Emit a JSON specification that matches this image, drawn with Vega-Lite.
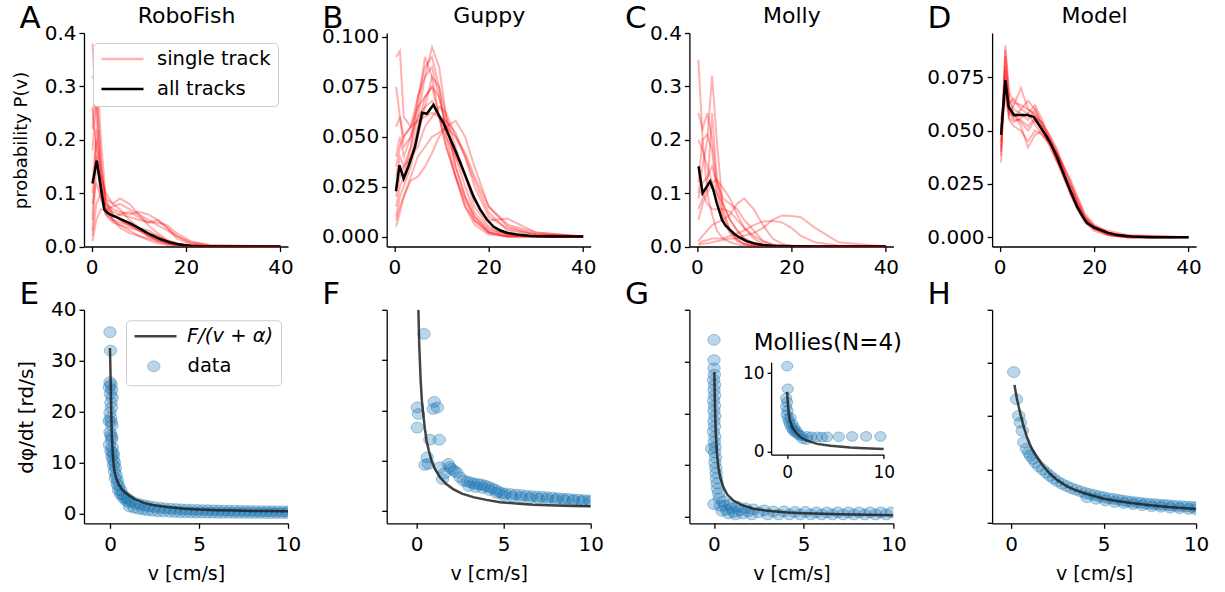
{
"$schema":"https://vega.github.io/schema/vega-lite/v6.json",
"autosize":{"type":"none"},
"padding":{"left":84,"top":33,"right":1141,"bottom":559},
"background":"white",
"bounds":"flush",
"columns":4,
"spacing":{"row":62.8,"column":98.7},
"resolve":{"scale":{"color":"independent","shape":"independent"},"legend":{"color":"independent","shape":"independent"}},
"datasets":{
"At":[
{"k":1,"x":0.2,"y":0.38},{"k":1,"x":1,"y":0.25},{"k":1,"x":2,"y":0.12},{"k":1,"x":3,"y":0.07},{"k":1,"x":4.5,"y":0.05},{"k":1,"x":6,"y":0.04},{"k":1,"x":8,"y":0.03},{"k":1,"x":10,"y":0.02},{"k":1,"x":12,"y":0.012},{"k":1,"x":14,"y":0.006},{"k":1,"x":16,"y":0.003},{"k":1,"x":18,"y":0.001},{"k":1,"x":21,"y":0},{"k":1,"x":40,"y":0},
{"k":2,"x":0.2,"y":0.32},{"k":2,"x":1,"y":0.3},{"k":2,"x":2,"y":0.15},{"k":2,"x":3,"y":0.08},{"k":2,"x":4.5,"y":0.06},{"k":2,"x":6,"y":0.05},{"k":2,"x":8,"y":0.04},{"k":2,"x":10,"y":0.03},{"k":2,"x":12,"y":0.02},{"k":2,"x":14,"y":0.012},{"k":2,"x":16,"y":0.006},{"k":2,"x":18,"y":0.003},{"k":2,"x":21,"y":0.001},{"k":2,"x":25,"y":0},{"k":2,"x":40,"y":0},
{"k":3,"x":0.2,"y":0.05},{"k":3,"x":1,"y":0.22},{"k":3,"x":2,"y":0.14},{"k":3,"x":3,"y":0.09},{"k":3,"x":4.5,"y":0.08},{"k":3,"x":6,"y":0.09},{"k":3,"x":8,"y":0.08},{"k":3,"x":10,"y":0.06},{"k":3,"x":12,"y":0.04},{"k":3,"x":14,"y":0.025},{"k":3,"x":16,"y":0.012},{"k":3,"x":18,"y":0.005},{"k":3,"x":21,"y":0.001},{"k":3,"x":25,"y":0},{"k":3,"x":40,"y":0},
{"k":4,"x":0.2,"y":0.02},{"k":4,"x":1,"y":0.08},{"k":4,"x":2,"y":0.1},{"k":4,"x":3,"y":0.08},{"k":4,"x":4.5,"y":0.07},{"k":4,"x":6,"y":0.065},{"k":4,"x":8,"y":0.06},{"k":4,"x":10,"y":0.065},{"k":4,"x":12,"y":0.06},{"k":4,"x":14,"y":0.05},{"k":4,"x":16,"y":0.035},{"k":4,"x":18,"y":0.02},{"k":4,"x":21,"y":0.006},{"k":4,"x":25,"y":0.001},{"k":4,"x":40,"y":0},
{"k":5,"x":0.2,"y":0.12},{"k":5,"x":1,"y":0.2},{"k":5,"x":2,"y":0.12},{"k":5,"x":3,"y":0.06},{"k":5,"x":4.5,"y":0.045},{"k":5,"x":6,"y":0.04},{"k":5,"x":8,"y":0.035},{"k":5,"x":10,"y":0.03},{"k":5,"x":12,"y":0.025},{"k":5,"x":14,"y":0.02},{"k":5,"x":16,"y":0.012},{"k":5,"x":18,"y":0.006},{"k":5,"x":21,"y":0.002},{"k":5,"x":25,"y":0},{"k":5,"x":40,"y":0},
{"k":6,"x":0.2,"y":0.26},{"k":6,"x":1,"y":0.18},{"k":6,"x":2,"y":0.09},{"k":6,"x":3,"y":0.06},{"k":6,"x":4.5,"y":0.05},{"k":6,"x":6,"y":0.045},{"k":6,"x":8,"y":0.04},{"k":6,"x":10,"y":0.035},{"k":6,"x":12,"y":0.03},{"k":6,"x":14,"y":0.02},{"k":6,"x":16,"y":0.01},{"k":6,"x":18,"y":0.004},{"k":6,"x":21,"y":0.001},{"k":6,"x":25,"y":0},{"k":6,"x":40,"y":0},
{"k":7,"x":0.2,"y":0.01},{"k":7,"x":1,"y":0.05},{"k":7,"x":2,"y":0.07},{"k":7,"x":3,"y":0.07},{"k":7,"x":4.5,"y":0.075},{"k":7,"x":6,"y":0.08},{"k":7,"x":8,"y":0.07},{"k":7,"x":10,"y":0.06},{"k":7,"x":12,"y":0.05},{"k":7,"x":14,"y":0.04},{"k":7,"x":16,"y":0.03},{"k":7,"x":18,"y":0.02},{"k":7,"x":21,"y":0.008},{"k":7,"x":25,"y":0.002},{"k":7,"x":40,"y":0},
{"k":8,"x":0.2,"y":0.18},{"k":8,"x":1,"y":0.28},{"k":8,"x":2,"y":0.16},{"k":8,"x":3,"y":0.08},{"k":8,"x":4.5,"y":0.05},{"k":8,"x":6,"y":0.035},{"k":8,"x":8,"y":0.025},{"k":8,"x":10,"y":0.02},{"k":8,"x":12,"y":0.015},{"k":8,"x":14,"y":0.01},{"k":8,"x":16,"y":0.006},{"k":8,"x":18,"y":0.003},{"k":8,"x":21,"y":0.001},{"k":8,"x":25,"y":0},{"k":8,"x":40,"y":0},
{"k":9,"x":0.2,"y":0.08},{"k":9,"x":1,"y":0.12},{"k":9,"x":2,"y":0.09},{"k":9,"x":3,"y":0.07},{"k":9,"x":4.5,"y":0.065},{"k":9,"x":6,"y":0.06},{"k":9,"x":8,"y":0.055},{"k":9,"x":10,"y":0.05},{"k":9,"x":12,"y":0.045},{"k":9,"x":14,"y":0.045},{"k":9,"x":16,"y":0.04},{"k":9,"x":18,"y":0.025},{"k":9,"x":21,"y":0.01},{"k":9,"x":25,"y":0.003},{"k":9,"x":40,"y":0},
{"k":10,"x":0.2,"y":0.03},{"k":10,"x":1,"y":0.15},{"k":10,"x":2,"y":0.13},{"k":10,"x":3,"y":0.1},{"k":10,"x":4.5,"y":0.08},{"k":10,"x":6,"y":0.07},{"k":10,"x":8,"y":0.05},{"k":10,"x":10,"y":0.035},{"k":10,"x":12,"y":0.02},{"k":10,"x":14,"y":0.01},{"k":10,"x":16,"y":0.005},{"k":10,"x":18,"y":0.002},{"k":10,"x":21,"y":0},{"k":10,"x":40,"y":0},
{"k":11,"x":0.2,"y":0.22},{"k":11,"x":1,"y":0.35},{"k":11,"x":2,"y":0.2},{"k":11,"x":3,"y":0.09},{"k":11,"x":4.5,"y":0.06},{"k":11,"x":6,"y":0.05},{"k":11,"x":8,"y":0.04},{"k":11,"x":10,"y":0.03},{"k":11,"x":12,"y":0.02},{"k":11,"x":14,"y":0.013},{"k":11,"x":16,"y":0.007},{"k":11,"x":18,"y":0.003},{"k":11,"x":21,"y":0.001},{"k":11,"x":25,"y":0},{"k":11,"x":40,"y":0},
{"k":12,"x":0.2,"y":0.1},{"k":12,"x":1,"y":0.17},{"k":12,"x":2,"y":0.1},{"k":12,"x":3,"y":0.065},{"k":12,"x":4.5,"y":0.055},{"k":12,"x":6,"y":0.06},{"k":12,"x":8,"y":0.065},{"k":12,"x":10,"y":0.055},{"k":12,"x":12,"y":0.045},{"k":12,"x":14,"y":0.05},{"k":12,"x":16,"y":0.035},{"k":12,"x":18,"y":0.015},{"k":12,"x":21,"y":0.004},{"k":12,"x":25,"y":0.001},{"k":12,"x":40,"y":0}
],
"Ab":[
{"x":0.2,"y":0.118},{"x":1.1,"y":0.161},{"x":2.7,"y":0.069},{"x":3.5,"y":0.062},{"x":4.5,"y":0.058},{"x":5.5,"y":0.054},{"x":6.5,"y":0.05},{"x":7.5,"y":0.046},{"x":8.5,"y":0.042},{"x":9.5,"y":0.037},{"x":10.5,"y":0.032},{"x":11.5,"y":0.027},{"x":12.5,"y":0.022},{"x":13.5,"y":0.018},{"x":14.5,"y":0.014},{"x":15.5,"y":0.011},{"x":16.5,"y":0.008},{"x":17.5,"y":0.006},{"x":18.5,"y":0.004},{"x":19.5,"y":0.003},{"x":21,"y":0.0015},{"x":23,"y":0.0007},{"x":26,"y":0.0002},{"x":30,"y":0},{"x":40,"y":0}
],
"Bt":[
{"k":1,"x":0.4,"y":0.09},{"k":1,"x":1.2,"y":0.093},{"k":1,"x":2,"y":0.06},{"k":1,"x":3.5,"y":0.055},{"k":1,"x":5,"y":0.07},{"k":1,"x":6.5,"y":0.08},{"k":1,"x":8,"y":0.085},{"k":1,"x":9.5,"y":0.07},{"k":1,"x":11,"y":0.055},{"k":1,"x":13,"y":0.035},{"k":1,"x":15,"y":0.02},{"k":1,"x":17,"y":0.01},{"k":1,"x":20,"y":0.003},{"k":1,"x":24,"y":0.001},{"k":1,"x":30,"y":0},{"k":1,"x":40,"y":0},
{"k":2,"x":0.4,"y":0.01},{"k":2,"x":1.2,"y":0.02},{"k":2,"x":2,"y":0.025},{"k":2,"x":3.5,"y":0.035},{"k":2,"x":5,"y":0.05},{"k":2,"x":6.5,"y":0.065},{"k":2,"x":8,"y":0.08},{"k":2,"x":9.5,"y":0.075},{"k":2,"x":11,"y":0.06},{"k":2,"x":13,"y":0.045},{"k":2,"x":15,"y":0.03},{"k":2,"x":17,"y":0.015},{"k":2,"x":20,"y":0.005},{"k":2,"x":24,"y":0.001},{"k":2,"x":30,"y":0},{"k":2,"x":40,"y":0},
{"k":3,"x":0.4,"y":0.03},{"k":3,"x":1.2,"y":0.04},{"k":3,"x":2,"y":0.035},{"k":3,"x":3.5,"y":0.045},{"k":3,"x":5,"y":0.06},{"k":3,"x":6.5,"y":0.08},{"k":3,"x":8,"y":0.095},{"k":3,"x":9.5,"y":0.085},{"k":3,"x":11,"y":0.06},{"k":3,"x":13,"y":0.035},{"k":3,"x":15,"y":0.02},{"k":3,"x":17,"y":0.01},{"k":3,"x":20,"y":0.002},{"k":3,"x":24,"y":0},{"k":3,"x":40,"y":0},
{"k":4,"x":0.4,"y":0.005},{"k":4,"x":1.2,"y":0.012},{"k":4,"x":2,"y":0.02},{"k":4,"x":3.5,"y":0.03},{"k":4,"x":5,"y":0.04},{"k":4,"x":6.5,"y":0.045},{"k":4,"x":8,"y":0.05},{"k":4,"x":9.5,"y":0.052},{"k":4,"x":11,"y":0.055},{"k":4,"x":13,"y":0.058},{"k":4,"x":15,"y":0.05},{"k":4,"x":17,"y":0.035},{"k":4,"x":20,"y":0.015},{"k":4,"x":24,"y":0.005},{"k":4,"x":30,"y":0.001},{"k":4,"x":40,"y":0},
{"k":5,"x":0.4,"y":0.075},{"k":5,"x":1.2,"y":0.06},{"k":5,"x":2,"y":0.05},{"k":5,"x":3.5,"y":0.055},{"k":5,"x":5,"y":0.065},{"k":5,"x":6.5,"y":0.07},{"k":5,"x":8,"y":0.075},{"k":5,"x":9.5,"y":0.06},{"k":5,"x":11,"y":0.045},{"k":5,"x":13,"y":0.03},{"k":5,"x":15,"y":0.015},{"k":5,"x":17,"y":0.008},{"k":5,"x":20,"y":0.002},{"k":5,"x":24,"y":0},{"k":5,"x":40,"y":0},
{"k":6,"x":0.4,"y":0.02},{"k":6,"x":1.2,"y":0.03},{"k":6,"x":2,"y":0.035},{"k":6,"x":3.5,"y":0.04},{"k":6,"x":5,"y":0.045},{"k":6,"x":6.5,"y":0.055},{"k":6,"x":8,"y":0.06},{"k":6,"x":9.5,"y":0.065},{"k":6,"x":11,"y":0.062},{"k":6,"x":13,"y":0.05},{"k":6,"x":15,"y":0.04},{"k":6,"x":17,"y":0.025},{"k":6,"x":20,"y":0.01},{"k":6,"x":24,"y":0.004},{"k":6,"x":30,"y":0.001},{"k":6,"x":40,"y":0},
{"k":7,"x":0.4,"y":0.04},{"k":7,"x":1.2,"y":0.05},{"k":7,"x":2,"y":0.04},{"k":7,"x":3.5,"y":0.05},{"k":7,"x":5,"y":0.065},{"k":7,"x":6.5,"y":0.09},{"k":7,"x":8,"y":0.08},{"k":7,"x":9.5,"y":0.06},{"k":7,"x":11,"y":0.045},{"k":7,"x":13,"y":0.03},{"k":7,"x":15,"y":0.018},{"k":7,"x":17,"y":0.008},{"k":7,"x":20,"y":0.002},{"k":7,"x":24,"y":0},{"k":7,"x":40,"y":0},
{"k":8,"x":0.4,"y":0.008},{"k":8,"x":1.2,"y":0.015},{"k":8,"x":2,"y":0.02},{"k":8,"x":3.5,"y":0.028},{"k":8,"x":5,"y":0.03},{"k":8,"x":6.5,"y":0.035},{"k":8,"x":8,"y":0.042},{"k":8,"x":9.5,"y":0.05},{"k":8,"x":11,"y":0.055},{"k":8,"x":13,"y":0.05},{"k":8,"x":15,"y":0.042},{"k":8,"x":17,"y":0.03},{"k":8,"x":20,"y":0.015},{"k":8,"x":24,"y":0.006},{"k":8,"x":30,"y":0.002},{"k":8,"x":40,"y":0},
{"k":9,"x":0.4,"y":0.025},{"k":9,"x":1.2,"y":0.035},{"k":9,"x":2,"y":0.03},{"k":9,"x":3.5,"y":0.04},{"k":9,"x":5,"y":0.055},{"k":9,"x":6.5,"y":0.07},{"k":9,"x":8,"y":0.075},{"k":9,"x":9.5,"y":0.07},{"k":9,"x":11,"y":0.055},{"k":9,"x":13,"y":0.04},{"k":9,"x":15,"y":0.025},{"k":9,"x":17,"y":0.012},{"k":9,"x":20,"y":0.004},{"k":9,"x":24,"y":0.001},{"k":9,"x":30,"y":0},{"k":9,"x":40,"y":0},
{"k":10,"x":0.4,"y":0.055},{"k":10,"x":1.2,"y":0.06},{"k":10,"x":2,"y":0.045},{"k":10,"x":3.5,"y":0.05},{"k":10,"x":5,"y":0.06},{"k":10,"x":6.5,"y":0.065},{"k":10,"x":8,"y":0.068},{"k":10,"x":9.5,"y":0.06},{"k":10,"x":11,"y":0.05},{"k":10,"x":13,"y":0.04},{"k":10,"x":15,"y":0.03},{"k":10,"x":17,"y":0.018},{"k":10,"x":20,"y":0.008},{"k":10,"x":24,"y":0.009},{"k":10,"x":30,"y":0.002},{"k":10,"x":40,"y":0},
{"k":11,"x":0.4,"y":0.015},{"k":11,"x":1.2,"y":0.025},{"k":11,"x":2,"y":0.03},{"k":11,"x":3.5,"y":0.045},{"k":11,"x":5,"y":0.07},{"k":11,"x":6.5,"y":0.085},{"k":11,"x":8,"y":0.09},{"k":11,"x":9.5,"y":0.075},{"k":11,"x":11,"y":0.05},{"k":11,"x":13,"y":0.03},{"k":11,"x":15,"y":0.015},{"k":11,"x":17,"y":0.006},{"k":11,"x":20,"y":0.001},{"k":11,"x":24,"y":0},{"k":11,"x":40,"y":0},
{"k":12,"x":0.4,"y":0.035},{"k":12,"x":1.2,"y":0.045},{"k":12,"x":2,"y":0.05},{"k":12,"x":3.5,"y":0.055},{"k":12,"x":5,"y":0.058},{"k":12,"x":6.5,"y":0.06},{"k":12,"x":8,"y":0.062},{"k":12,"x":9.5,"y":0.06},{"k":12,"x":11,"y":0.058},{"k":12,"x":13,"y":0.052},{"k":12,"x":15,"y":0.04},{"k":12,"x":17,"y":0.028},{"k":12,"x":20,"y":0.012},{"k":12,"x":24,"y":0.003},{"k":12,"x":30,"y":0.001},{"k":12,"x":40,"y":0}
],
"Bb":[
{"x":0.36,"y":0.0227},{"x":1.1,"y":0.0357},{"x":2,"y":0.029},{"x":3,"y":0.035},{"x":4.4,"y":0.045},{"x":5.9,"y":0.062},{"x":6.9,"y":0.0615},{"x":8.3,"y":0.066},{"x":9.4,"y":0.061},{"x":10.4,"y":0.057},{"x":11.5,"y":0.051},{"x":12.6,"y":0.045},{"x":14,"y":0.037},{"x":15.4,"y":0.0285},{"x":16.8,"y":0.02},{"x":18.2,"y":0.0135},{"x":19.6,"y":0.0085},{"x":21,"y":0.005},{"x":22.5,"y":0.003},{"x":24,"y":0.0018},{"x":26,"y":0.001},{"x":29,"y":0.0003},{"x":33,"y":0},{"x":40,"y":0}
],
"Ct":[
{"k":1,"x":0.3,"y":0.35},{"k":1,"x":1.2,"y":0.2},{"k":1,"x":2.2,"y":0.1},{"k":1,"x":3.2,"y":0.06},{"k":1,"x":4.2,"y":0.03},{"k":1,"x":5.5,"y":0.015},{"k":1,"x":7,"y":0.008},{"k":1,"x":8.5,"y":0.004},{"k":1,"x":10,"y":0.002},{"k":1,"x":12,"y":0.001},{"k":1,"x":14,"y":0},{"k":1,"x":40,"y":0},
{"k":2,"x":0.3,"y":0.1},{"k":2,"x":1.2,"y":0.15},{"k":2,"x":2.2,"y":0.2},{"k":2,"x":3.2,"y":0.32},{"k":2,"x":4.2,"y":0.2},{"k":2,"x":5.5,"y":0.07},{"k":2,"x":7,"y":0.03},{"k":2,"x":8.5,"y":0.015},{"k":2,"x":10,"y":0.006},{"k":2,"x":12,"y":0.002},{"k":2,"x":14,"y":0.001},{"k":2,"x":16,"y":0},{"k":2,"x":40,"y":0},
{"k":3,"x":0.3,"y":0.2},{"k":3,"x":1.2,"y":0.18},{"k":3,"x":2.2,"y":0.15},{"k":3,"x":3.2,"y":0.12},{"k":3,"x":4.2,"y":0.1},{"k":3,"x":5.5,"y":0.08},{"k":3,"x":7,"y":0.05},{"k":3,"x":8.5,"y":0.03},{"k":3,"x":10,"y":0.015},{"k":3,"x":12,"y":0.005},{"k":3,"x":14,"y":0.002},{"k":3,"x":16,"y":0.001},{"k":3,"x":18,"y":0},{"k":3,"x":40,"y":0},
{"k":4,"x":0.3,"y":0.05},{"k":4,"x":1.2,"y":0.08},{"k":4,"x":2.2,"y":0.1},{"k":4,"x":3.2,"y":0.12},{"k":4,"x":4.2,"y":0.125},{"k":4,"x":5.5,"y":0.11},{"k":4,"x":7,"y":0.09},{"k":4,"x":8.5,"y":0.06},{"k":4,"x":10,"y":0.035},{"k":4,"x":12,"y":0.015},{"k":4,"x":14,"y":0.005},{"k":4,"x":16,"y":0.002},{"k":4,"x":18,"y":0},{"k":4,"x":40,"y":0},
{"k":5,"x":0.3,"y":0.01},{"k":5,"x":1.2,"y":0.02},{"k":5,"x":2.2,"y":0.03},{"k":5,"x":3.2,"y":0.04},{"k":5,"x":4.2,"y":0.045},{"k":5,"x":5.5,"y":0.05},{"k":5,"x":7,"y":0.06},{"k":5,"x":8.5,"y":0.08},{"k":5,"x":10,"y":0.09},{"k":5,"x":12,"y":0.07},{"k":5,"x":14,"y":0.04},{"k":5,"x":16,"y":0.015},{"k":5,"x":18,"y":0.005},{"k":5,"x":20,"y":0.001},{"k":5,"x":22,"y":0},{"k":5,"x":40,"y":0},
{"k":6,"x":0.3,"y":0.005},{"k":6,"x":1.2,"y":0.01},{"k":6,"x":2.2,"y":0.012},{"k":6,"x":3.2,"y":0.015},{"k":6,"x":4.2,"y":0.015},{"k":6,"x":5.5,"y":0.015},{"k":6,"x":7,"y":0.02},{"k":6,"x":8.5,"y":0.025},{"k":6,"x":10,"y":0.03},{"k":6,"x":12,"y":0.04},{"k":6,"x":14,"y":0.047},{"k":6,"x":16,"y":0.048},{"k":6,"x":18,"y":0.045},{"k":6,"x":20,"y":0.035},{"k":6,"x":22,"y":0.02},{"k":6,"x":25,"y":0.008},{"k":6,"x":30,"y":0.002},{"k":6,"x":40,"y":0},
{"k":7,"x":0.3,"y":0.003},{"k":7,"x":1.2,"y":0.005},{"k":7,"x":2.2,"y":0.006},{"k":7,"x":3.2,"y":0.008},{"k":7,"x":4.2,"y":0.01},{"k":7,"x":5.5,"y":0.012},{"k":7,"x":7,"y":0.015},{"k":7,"x":8.5,"y":0.015},{"k":7,"x":10,"y":0.02},{"k":7,"x":12,"y":0.025},{"k":7,"x":14,"y":0.035},{"k":7,"x":16,"y":0.05},{"k":7,"x":18,"y":0.058},{"k":7,"x":20,"y":0.057},{"k":7,"x":22,"y":0.055},{"k":7,"x":25,"y":0.035},{"k":7,"x":30,"y":0.008},{"k":7,"x":40,"y":0},
{"k":8,"x":0.3,"y":0.25},{"k":8,"x":1.2,"y":0.22},{"k":8,"x":2.2,"y":0.25},{"k":8,"x":3.2,"y":0.2},{"k":8,"x":4.2,"y":0.12},{"k":8,"x":5.5,"y":0.06},{"k":8,"x":7,"y":0.03},{"k":8,"x":8.5,"y":0.012},{"k":8,"x":10,"y":0.005},{"k":8,"x":12,"y":0.002},{"k":8,"x":14,"y":0},{"k":8,"x":40,"y":0},
{"k":9,"x":0.3,"y":0.09},{"k":9,"x":1.2,"y":0.12},{"k":9,"x":2.2,"y":0.13},{"k":9,"x":3.2,"y":0.15},{"k":9,"x":4.2,"y":0.12},{"k":9,"x":5.5,"y":0.09},{"k":9,"x":7,"y":0.08},{"k":9,"x":8.5,"y":0.07},{"k":9,"x":10,"y":0.05},{"k":9,"x":12,"y":0.03},{"k":9,"x":14,"y":0.01},{"k":9,"x":16,"y":0.004},{"k":9,"x":18,"y":0.001},{"k":9,"x":20,"y":0},{"k":9,"x":40,"y":0},
{"k":10,"x":0.3,"y":0.15},{"k":10,"x":1.2,"y":0.1},{"k":10,"x":2.2,"y":0.08},{"k":10,"x":3.2,"y":0.07},{"k":10,"x":4.2,"y":0.07},{"k":10,"x":5.5,"y":0.07},{"k":10,"x":7,"y":0.065},{"k":10,"x":8.5,"y":0.05},{"k":10,"x":10,"y":0.035},{"k":10,"x":12,"y":0.02},{"k":10,"x":14,"y":0.01},{"k":10,"x":16,"y":0.004},{"k":10,"x":18,"y":0.001},{"k":10,"x":20,"y":0},{"k":10,"x":40,"y":0},
{"k":11,"x":0.3,"y":0.12},{"k":11,"x":1.2,"y":0.2},{"k":11,"x":2.2,"y":0.21},{"k":11,"x":3.2,"y":0.18},{"k":11,"x":4.2,"y":0.1},{"k":11,"x":5.5,"y":0.05},{"k":11,"x":7,"y":0.025},{"k":11,"x":8.5,"y":0.01},{"k":11,"x":10,"y":0.004},{"k":11,"x":12,"y":0.001},{"k":11,"x":14,"y":0},{"k":11,"x":40,"y":0},
{"k":12,"x":0.3,"y":0.07},{"k":12,"x":1.2,"y":0.09},{"k":12,"x":2.2,"y":0.11},{"k":12,"x":3.2,"y":0.25},{"k":12,"x":4.2,"y":0.13},{"k":12,"x":5.5,"y":0.08},{"k":12,"x":7,"y":0.05},{"k":12,"x":8.5,"y":0.03},{"k":12,"x":10,"y":0.015},{"k":12,"x":12,"y":0.006},{"k":12,"x":14,"y":0.002},{"k":12,"x":16,"y":0},{"k":12,"x":40,"y":0}
],
"Cb":[
{"x":0.35,"y":0.15},{"x":1.2,"y":0.1},{"x":2.8,"y":0.122},{"x":3.5,"y":0.105},{"x":4.2,"y":0.081},{"x":5.3,"y":0.05},{"x":6,"y":0.04},{"x":7,"y":0.031},{"x":8,"y":0.023},{"x":9.2,"y":0.016},{"x":10.5,"y":0.01},{"x":12,"y":0.006},{"x":14,"y":0.003},{"x":16,"y":0.0015},{"x":18,"y":0.0008},{"x":21,"y":0.0003},{"x":25,"y":0},{"x":40,"y":0}
],
"Dt":[
{"k":1,"x":0.3,"y":0.04},{"k":1,"x":1.2,"y":0.085},{"k":1,"x":2,"y":0.065},{"k":1,"x":3,"y":0.06},{"k":1,"x":4.5,"y":0.058},{"k":1,"x":6,"y":0.055},{"k":1,"x":7.5,"y":0.06},{"k":1,"x":9,"y":0.052},{"k":1,"x":10.5,"y":0.046},{"k":1,"x":12,"y":0.04},{"k":1,"x":13.5,"y":0.032},{"k":1,"x":15,"y":0.022},{"k":1,"x":16.5,"y":0.015},{"k":1,"x":18,"y":0.008},{"k":1,"x":20,"y":0.004},{"k":1,"x":23,"y":0.001},{"k":1,"x":27,"y":0},{"k":1,"x":40,"y":0},
{"k":2,"x":0.3,"y":0.055},{"k":2,"x":1.2,"y":0.07},{"k":2,"x":2,"y":0.055},{"k":2,"x":3,"y":0.052},{"k":2,"x":4.5,"y":0.05},{"k":2,"x":6,"y":0.045},{"k":2,"x":7.5,"y":0.05},{"k":2,"x":9,"y":0.048},{"k":2,"x":10.5,"y":0.044},{"k":2,"x":12,"y":0.036},{"k":2,"x":13.5,"y":0.03},{"k":2,"x":15,"y":0.024},{"k":2,"x":16.5,"y":0.017},{"k":2,"x":18,"y":0.01},{"k":2,"x":20,"y":0.005},{"k":2,"x":23,"y":0.002},{"k":2,"x":27,"y":0.0005},{"k":2,"x":40,"y":0},
{"k":3,"x":0.3,"y":0.035},{"k":3,"x":1.2,"y":0.09},{"k":3,"x":2,"y":0.068},{"k":3,"x":3,"y":0.063},{"k":3,"x":4.5,"y":0.062},{"k":3,"x":6,"y":0.06},{"k":3,"x":7.5,"y":0.058},{"k":3,"x":9,"y":0.05},{"k":3,"x":10.5,"y":0.043},{"k":3,"x":12,"y":0.036},{"k":3,"x":13.5,"y":0.028},{"k":3,"x":15,"y":0.02},{"k":3,"x":16.5,"y":0.013},{"k":3,"x":18,"y":0.007},{"k":3,"x":20,"y":0.003},{"k":3,"x":23,"y":0.001},{"k":3,"x":27,"y":0},{"k":3,"x":40,"y":0},
{"k":4,"x":0.3,"y":0.05},{"k":4,"x":1.2,"y":0.065},{"k":4,"x":2,"y":0.058},{"k":4,"x":3,"y":0.056},{"k":4,"x":4.5,"y":0.06},{"k":4,"x":6,"y":0.064},{"k":4,"x":7.5,"y":0.06},{"k":4,"x":9,"y":0.053},{"k":4,"x":10.5,"y":0.048},{"k":4,"x":12,"y":0.042},{"k":4,"x":13.5,"y":0.033},{"k":4,"x":15,"y":0.025},{"k":4,"x":16.5,"y":0.018},{"k":4,"x":18,"y":0.01},{"k":4,"x":20,"y":0.005},{"k":4,"x":23,"y":0.002},{"k":4,"x":27,"y":0.0005},{"k":4,"x":40,"y":0},
{"k":5,"x":0.3,"y":0.045},{"k":5,"x":1.2,"y":0.08},{"k":5,"x":2,"y":0.06},{"k":5,"x":3,"y":0.058},{"k":5,"x":4.5,"y":0.052},{"k":5,"x":6,"y":0.042},{"k":5,"x":7.5,"y":0.048},{"k":5,"x":9,"y":0.05},{"k":5,"x":10.5,"y":0.046},{"k":5,"x":12,"y":0.04},{"k":5,"x":13.5,"y":0.034},{"k":5,"x":15,"y":0.026},{"k":5,"x":16.5,"y":0.016},{"k":5,"x":18,"y":0.009},{"k":5,"x":20,"y":0.004},{"k":5,"x":23,"y":0.001},{"k":5,"x":27,"y":0},{"k":5,"x":40,"y":0},
{"k":6,"x":0.3,"y":0.042},{"k":6,"x":1.2,"y":0.075},{"k":6,"x":2,"y":0.063},{"k":6,"x":3,"y":0.065},{"k":6,"x":4.5,"y":0.06},{"k":6,"x":6,"y":0.058},{"k":6,"x":7.5,"y":0.062},{"k":6,"x":9,"y":0.055},{"k":6,"x":10.5,"y":0.046},{"k":6,"x":12,"y":0.037},{"k":6,"x":13.5,"y":0.029},{"k":6,"x":15,"y":0.021},{"k":6,"x":16.5,"y":0.014},{"k":6,"x":18,"y":0.008},{"k":6,"x":20,"y":0.004},{"k":6,"x":23,"y":0.0015},{"k":6,"x":27,"y":0},{"k":6,"x":40,"y":0},
{"k":7,"x":0.3,"y":0.052},{"k":7,"x":1.2,"y":0.072},{"k":7,"x":2,"y":0.056},{"k":7,"x":3,"y":0.054},{"k":7,"x":4.5,"y":0.056},{"k":7,"x":6,"y":0.058},{"k":7,"x":7.5,"y":0.053},{"k":7,"x":9,"y":0.048},{"k":7,"x":10.5,"y":0.044},{"k":7,"x":12,"y":0.04},{"k":7,"x":13.5,"y":0.033},{"k":7,"x":15,"y":0.027},{"k":7,"x":16.5,"y":0.019},{"k":7,"x":18,"y":0.011},{"k":7,"x":20,"y":0.006},{"k":7,"x":23,"y":0.002},{"k":7,"x":27,"y":0.0005},{"k":7,"x":40,"y":0},
{"k":8,"x":0.3,"y":0.038},{"k":8,"x":1.2,"y":0.088},{"k":8,"x":2,"y":0.064},{"k":8,"x":3,"y":0.058},{"k":8,"x":4.5,"y":0.054},{"k":8,"x":6,"y":0.05},{"k":8,"x":7.5,"y":0.055},{"k":8,"x":9,"y":0.05},{"k":8,"x":10.5,"y":0.047},{"k":8,"x":12,"y":0.039},{"k":8,"x":13.5,"y":0.03},{"k":8,"x":15,"y":0.022},{"k":8,"x":16.5,"y":0.015},{"k":8,"x":18,"y":0.009},{"k":8,"x":20,"y":0.005},{"k":8,"x":23,"y":0.001},{"k":8,"x":27,"y":0},{"k":8,"x":40,"y":0},
{"k":9,"x":0.3,"y":0.048},{"k":9,"x":1.2,"y":0.078},{"k":9,"x":2,"y":0.058},{"k":9,"x":3,"y":0.062},{"k":9,"x":4.5,"y":0.07},{"k":9,"x":6,"y":0.06},{"k":9,"x":7.5,"y":0.057},{"k":9,"x":9,"y":0.053},{"k":9,"x":10.5,"y":0.045},{"k":9,"x":12,"y":0.037},{"k":9,"x":13.5,"y":0.031},{"k":9,"x":15,"y":0.024},{"k":9,"x":16.5,"y":0.016},{"k":9,"x":18,"y":0.009},{"k":9,"x":20,"y":0.004},{"k":9,"x":23,"y":0.002},{"k":9,"x":27,"y":0},{"k":9,"x":40,"y":0},
{"k":10,"x":0.3,"y":0.05},{"k":10,"x":1.2,"y":0.068},{"k":10,"x":2,"y":0.06},{"k":10,"x":3,"y":0.055},{"k":10,"x":4.5,"y":0.055},{"k":10,"x":6,"y":0.052},{"k":10,"x":7.5,"y":0.056},{"k":10,"x":9,"y":0.054},{"k":10,"x":10.5,"y":0.048},{"k":10,"x":12,"y":0.041},{"k":10,"x":13.5,"y":0.032},{"k":10,"x":15,"y":0.02},{"k":10,"x":16.5,"y":0.013},{"k":10,"x":18,"y":0.008},{"k":10,"x":20,"y":0.005},{"k":10,"x":23,"y":0.003},{"k":10,"x":27,"y":0.001},{"k":10,"x":40,"y":0}
],
"Db":[
{"x":0.3,"y":0.048},{"x":1.2,"y":0.0737},{"x":1.9,"y":0.0612},{"x":3,"y":0.0573},{"x":4.5,"y":0.0573},{"x":5.8,"y":0.0573},{"x":7.2,"y":0.0565},{"x":8.6,"y":0.0518},{"x":10,"y":0.047},{"x":11,"y":0.043},{"x":12.1,"y":0.0378},{"x":13.2,"y":0.0315},{"x":14.3,"y":0.0253},{"x":15.4,"y":0.0195},{"x":16.4,"y":0.0143},{"x":17.5,"y":0.01},{"x":18.5,"y":0.0066},{"x":20,"y":0.0045},{"x":21.3,"y":0.0034},{"x":23,"y":0.002},{"x":24.8,"y":0.001},{"x":28,"y":0.0003},{"x":32,"y":0},{"x":40,"y":0}
],
"Ep":[
{"x":0,"y":35.6},{"x":0.03,"y":32},{"x":0,"y":25.8},{"x":0.06,"y":25.3},{"x":-0.04,"y":24.8},{"x":0.1,"y":24.3},{"x":0.02,"y":23.5},{"x":0.12,"y":22.8},{"x":0.05,"y":21.8},{"x":0.08,"y":20.8},{"x":0,"y":19.8},{"x":0.04,"y":18.8},{"x":-0.05,"y":18.2},{"x":0.07,"y":18},{"x":0.1,"y":17.3},{"x":0,"y":16},{"x":0.05,"y":15.4},{"x":0.1,"y":15},{"x":0.08,"y":14.5},{"x":-0.03,"y":13.5},{"x":0.12,"y":13},{"x":0.05,"y":12.3},{"x":0.15,"y":12},{"x":0.1,"y":11.2},{"x":0.2,"y":11.5},{"x":0.18,"y":10.5},{"x":0.25,"y":10},{"x":0.2,"y":9.5},{"x":0.3,"y":9},{"x":0.25,"y":8.3},{"x":0.35,"y":7.6},{"x":0.3,"y":7},{"x":0.42,"y":6.5},{"x":0.4,"y":5.8},{"x":0.5,"y":5.4},{"x":0.48,"y":4.6},{"x":0.6,"y":4.6},{"x":0.6,"y":3.8},{"x":0.7,"y":3.8},{"x":0.75,"y":3.1},{"x":0.85,"y":3.2},{"x":0.9,"y":2.6},{"x":1,"y":2.9},{"x":1.05,"y":2.2},
{"x":1.2,"y":2.4},{"x":1.45,"y":2.05},{"x":1.7,"y":1.8},{"x":1.95,"y":1.6},{"x":2.2,"y":1.45},{"x":2.5,"y":1.3},{"x":2.8,"y":1.15},{"x":3.1,"y":1.05},{"x":3.4,"y":0.95},{"x":3.7,"y":0.9},{"x":4,"y":0.85},{"x":4.3,"y":0.8},{"x":4.6,"y":0.75},{"x":4.9,"y":0.72},{"x":5.2,"y":0.7},{"x":5.5,"y":0.68},{"x":5.8,"y":0.65},{"x":6.1,"y":0.63},{"x":6.4,"y":0.6},{"x":6.7,"y":0.58},{"x":7,"y":0.56},{"x":7.3,"y":0.55},{"x":7.6,"y":0.53},{"x":7.9,"y":0.52},{"x":8.2,"y":0.5},{"x":8.5,"y":0.5},{"x":8.8,"y":0.48},{"x":9.1,"y":0.47},{"x":9.4,"y":0.46},{"x":9.7,"y":0.45},{"x":10,"y":0.45},
{"x":1.1,"y":1.4},{"x":1.35,"y":1.15},{"x":1.6,"y":0.95},{"x":1.85,"y":0.8},{"x":2.1,"y":0.65},{"x":2.4,"y":0.55},{"x":2.7,"y":0.45},{"x":3,"y":0.4},{"x":3.35,"y":0.35},{"x":3.65,"y":0.3},{"x":3.95,"y":0.28},{"x":4.25,"y":0.25},{"x":4.55,"y":0.22},{"x":4.85,"y":0.2},{"x":5.15,"y":0.2},{"x":5.45,"y":0.18},{"x":5.75,"y":0.17},{"x":6.05,"y":0.16},{"x":6.35,"y":0.15},{"x":6.65,"y":0.15},{"x":6.95,"y":0.14},{"x":7.25,"y":0.13},{"x":7.55,"y":0.13},{"x":7.85,"y":0.12},{"x":8.15,"y":0.12},{"x":8.45,"y":0.11},{"x":8.75,"y":0.11},{"x":9.05,"y":0.1},{"x":9.35,"y":0.1},{"x":9.65,"y":0.1},{"x":9.95,"y":0.1}
],
"Ec":[
{"x":0,"y":32.5},{"x":0.02,"y":29},{"x":0.04,"y":25.5},{"x":0.07,"y":20},{"x":0.1,"y":15.6},{"x":0.15,"y":12},{"x":0.22,"y":9},{"x":0.3,"y":7.5},{"x":0.4,"y":6.5},{"x":0.5,"y":5.7},{"x":0.7,"y":4.6},{"x":1,"y":3.75},{"x":1.4,"y":2.8},{"x":1.9,"y":2.1},{"x":2.4,"y":1.7},{"x":2.9,"y":1.44},{"x":3.5,"y":1.2},{"x":4.2,"y":0.95},{"x":5,"y":0.8},{"x":6,"y":0.68},{"x":7,"y":0.6},{"x":8,"y":0.53},{"x":9,"y":0.49},{"x":10,"y":0.45}
],
"Fp":[
{"x":0.42,"y":35.2},{"x":0.04,"y":20.6},{"x":0.1,"y":19.3},{"x":0.04,"y":16.6},{"x":1.01,"y":21.7},{"x":1.19,"y":20.6},{"x":0.95,"y":20.3},{"x":0.76,"y":14.2},{"x":1.3,"y":14.2},{"x":0.61,"y":10.7},{"x":0.48,"y":9.2},{"x":0.67,"y":9.4},{"x":1.34,"y":8.7},{"x":1.82,"y":9.4},{"x":1.49,"y":6.4},{"x":2,"y":8.4},{"x":2.3,"y":7.7},{"x":2.49,"y":6.75},{"x":2.68,"y":6.1},{"x":1.6,"y":7.5},{"x":1.9,"y":8.8},{"x":2.15,"y":8},
{"x":2.9,"y":5.9},{"x":3.1,"y":5.7},{"x":3.3,"y":5.5},{"x":3.5,"y":5.4},{"x":3.7,"y":5.3},{"x":3.9,"y":5.1},{"x":4.1,"y":4.9},{"x":4.3,"y":4.6},{"x":4.5,"y":4.3},{"x":4.7,"y":3.9},{"x":4.9,"y":3.6},{"x":5.1,"y":3.5},{"x":5.4,"y":3.4},{"x":5.7,"y":3.3},{"x":6,"y":3.2},{"x":6.3,"y":3.1},{"x":6.6,"y":3},{"x":6.9,"y":2.9},{"x":7.2,"y":2.85},{"x":7.5,"y":2.8},{"x":7.8,"y":2.7},{"x":8.1,"y":2.6},{"x":8.4,"y":2.5},{"x":8.7,"y":2.45},{"x":9,"y":2.35},{"x":9.3,"y":2.3},{"x":9.6,"y":2.2},{"x":9.9,"y":2.15},
{"x":3,"y":5},{"x":3.4,"y":4.8},{"x":3.8,"y":4.6},{"x":4.2,"y":4.2},{"x":4.6,"y":3.6},{"x":5,"y":3.1},{"x":5.5,"y":2.9},{"x":6,"y":2.7},{"x":6.5,"y":2.6},{"x":7,"y":2.5},{"x":7.5,"y":2.4},{"x":8,"y":2.3},{"x":8.5,"y":2.2},{"x":9,"y":2.1},{"x":9.5,"y":2},{"x":10,"y":1.9}
],
"Fc":[
{"x":0.1,"y":40},{"x":0.15,"y":33},{"x":0.23,"y":26},{"x":0.3,"y":22},{"x":0.38,"y":19.3},{"x":0.47,"y":16.5},{"x":0.57,"y":14},{"x":0.7,"y":12},{"x":0.86,"y":10},{"x":1.05,"y":8.4},{"x":1.34,"y":6.75},{"x":1.7,"y":5.4},{"x":2.1,"y":4.4},{"x":2.6,"y":3.5},{"x":3.25,"y":2.8},{"x":4,"y":2.25},{"x":4.8,"y":1.8},{"x":5.7,"y":1.55},{"x":6.7,"y":1.3},{"x":8,"y":1.15},{"x":9,"y":1.05},{"x":10,"y":1}
],
"Gp":[
{"x":0,"y":34.2},{"x":0,"y":30.3},{"x":0,"y":28.7},{"x":0.02,"y":27.5},{"x":-0.02,"y":26.5},{"x":0.03,"y":25.5},{"x":0,"y":24.5},{"x":0.04,"y":23.5},{"x":-0.02,"y":22.5},{"x":0.03,"y":21.5},{"x":0,"y":20.5},{"x":0.05,"y":19.5},{"x":0,"y":18.5},{"x":0.03,"y":17.5},{"x":-0.03,"y":16.5},{"x":0.05,"y":15.5},{"x":0.02,"y":14.5},{"x":-0.13,"y":13.2},{"x":0.06,"y":13.5},{"x":0.03,"y":12.5},{"x":0.08,"y":11.5},{"x":0.05,"y":10.5},{"x":0.1,"y":9.5},{"x":0.12,"y":8.5},{"x":0.14,"y":7.5},{"x":0.17,"y":6.5},{"x":0.2,"y":5.5},{"x":0.25,"y":4.6},{"x":0,"y":2.5},
{"x":0.3,"y":3.6},{"x":0.35,"y":2.2},{"x":0.45,"y":1.2},{"x":0.5,"y":3},{"x":0.6,"y":2.2},{"x":0.7,"y":1.4},{"x":0.8,"y":0.7},{"x":0.9,"y":2.4},{"x":1,"y":1.7},{"x":1.1,"y":1},{"x":1.2,"y":0.5},{"x":1.3,"y":2},{"x":1.45,"y":1.3},{"x":1.6,"y":0.7},{"x":1.75,"y":1.7},{"x":1.9,"y":1.1},{"x":2.1,"y":0.5},{"x":2.2,"y":1.5},{"x":2.5,"y":0.9},{"x":2.8,"y":1.3},{"x":3,"y":0.5},{"x":3.3,"y":1.1},{"x":3.6,"y":0.5},{"x":3.9,"y":1.1},{"x":4.2,"y":0.5},{"x":4.5,"y":1},{"x":4.8,"y":0.5},{"x":5.1,"y":1},{"x":5.4,"y":0.5},{"x":5.7,"y":0.9},{"x":6,"y":0.5},{"x":6.3,"y":0.9},{"x":6.6,"y":0.5},{"x":6.9,"y":0.9},{"x":7.2,"y":0.5},{"x":7.5,"y":0.9},{"x":7.8,"y":0.5},{"x":8.1,"y":0.9},{"x":8.4,"y":0.5},{"x":8.7,"y":0.9},{"x":9,"y":0.5},{"x":9.3,"y":0.9},{"x":9.6,"y":0.5},{"x":9.9,"y":0.9}
],
"Gc":[
{"x":0.02,"y":28},{"x":0.05,"y":22},{"x":0.1,"y":16.1},{"x":0.16,"y":12.5},{"x":0.24,"y":9.7},{"x":0.35,"y":7.6},{"x":0.52,"y":5.8},{"x":0.75,"y":4.3},{"x":1.08,"y":3.2},{"x":1.5,"y":2.4},{"x":2.2,"y":1.6},{"x":3,"y":1.2},{"x":4.1,"y":0.9},{"x":5,"y":0.75},{"x":6,"y":0.62},{"x":7,"y":0.55},{"x":8.5,"y":0.45},{"x":10,"y":0.35}
],
"Gi":[
{"x":0,"y":10.9},{"x":0.07,"y":8},{"x":-0.1,"y":6.8},{"x":0,"y":6.3},{"x":-0.1,"y":5.7},{"x":0.05,"y":5.2},{"x":-0.05,"y":4.7},{"x":0.1,"y":4.2},{"x":0.2,"y":3.8},{"x":0.3,"y":3.4},{"x":0.45,"y":3},{"x":0.6,"y":2.7},{"x":0.8,"y":2.5},{"x":1,"y":2.3},{"x":1.2,"y":2.1},{"x":1.45,"y":2},{"x":0.35,"y":4.3},{"x":0.55,"y":3.5},{"x":0.75,"y":3},{"x":1,"y":2.6},{"x":1.6,"y":1.6},{"x":2,"y":1.5},{"x":2.07,"y":1.9},{"x":2.5,"y":1.85},{"x":3.1,"y":1.85},{"x":3.6,"y":1.8},{"x":4.14,"y":1.85},{"x":5.35,"y":1.85},{"x":6.73,"y":1.9},{"x":8.18,"y":1.9},{"x":9.66,"y":1.9}
],
"Gj":[
{"x":0,"y":7.6},{"x":0.08,"y":6},{"x":0.17,"y":4.8},{"x":0.3,"y":3.9},{"x":0.52,"y":3.1},{"x":0.9,"y":2.4},{"x":1.38,"y":1.8},{"x":2,"y":1.4},{"x":3.1,"y":0.95},{"x":4.5,"y":0.7},{"x":6.55,"y":0.5},{"x":8,"y":0.4},{"x":10,"y":0.3}
],
"Hp":[
{"x":0.14,"y":28.3},{"x":0.29,"y":23.2},{"x":0.41,"y":20.1},{"x":0.5,"y":18.8},{"x":0.6,"y":17.3},{"x":0.68,"y":15.1},{"x":0.82,"y":13.9},{"x":0.95,"y":13.2},{"x":1.04,"y":12.6},{"x":1.18,"y":12},{"x":1.31,"y":11.3},{"x":1.5,"y":10.6},{"x":1.7,"y":10},{"x":1.9,"y":9.4},{"x":2.1,"y":8.8},{"x":2.3,"y":8.3},{"x":2.5,"y":7.8},{"x":2.75,"y":7.3},{"x":3,"y":6.9},{"x":3.25,"y":6.5},{"x":3.5,"y":6.2},{"x":3.75,"y":5.9},{"x":4,"y":5.6},{"x":4.25,"y":5.4},{"x":4.5,"y":5.2},{"x":4.75,"y":5},{"x":5,"y":4.8},{"x":5.25,"y":4.6},{"x":5.5,"y":4.5},{"x":5.75,"y":4.35},{"x":6,"y":4.2},{"x":6.25,"y":4.05},{"x":6.5,"y":3.95},{"x":6.75,"y":3.85},{"x":7,"y":3.75},{"x":7.25,"y":3.65},{"x":7.5,"y":3.55},{"x":7.75,"y":3.5},{"x":8,"y":3.4},{"x":8.25,"y":3.35},{"x":8.5,"y":3.3},{"x":8.75,"y":3.2},{"x":9,"y":3.15},{"x":9.25,"y":3.1},{"x":9.5,"y":3.05},{"x":9.75,"y":3},{"x":10,"y":2.95},
{"x":4.1,"y":4.8},{"x":4.6,"y":4.5},{"x":5.1,"y":4.2},{"x":5.6,"y":3.9},{"x":6.1,"y":3.7},{"x":6.6,"y":3.5},{"x":7.1,"y":3.3},{"x":7.6,"y":3.1},{"x":8.1,"y":3},{"x":8.6,"y":2.85},{"x":9.1,"y":2.75},{"x":9.6,"y":2.6},{"x":10,"y":2.5}
],
"Hc":[
{"x":0.18,"y":25.9},{"x":0.3,"y":23.5},{"x":0.5,"y":20.4},{"x":0.7,"y":17.8},{"x":0.86,"y":16},{"x":1.1,"y":14},{"x":1.4,"y":12.3},{"x":1.7,"y":10.8},{"x":2.1,"y":9.2},{"x":2.5,"y":8},{"x":3,"y":6.9},{"x":3.5,"y":6.1},{"x":4.1,"y":5.4},{"x":5,"y":4.5},{"x":5.7,"y":4.1},{"x":6.5,"y":3.7},{"x":7.5,"y":3.3},{"x":8.5,"y":2.95},{"x":10,"y":2.57}
]
},
"concat":[
{"width":204,"height":213.5,
 "layer":[
  {"data":{"name":"At"},"mark":{"type":"line","strokeWidth":2,"opacity":0.3,"color":"#ff0000","clip":true},
   "encoding":{
    "x":{"field":"x","type":"quantitative","scale":{"domain":[-1.6,41.6],"nice":false,"zero":false},"axis":{"values":[0,20,40],"title":null}},
    "y":{"field":"y","type":"quantitative","scale":{"domain":[0,0.4],"nice":false,"zero":false},"axis":{"values":[0,0.1,0.2,0.3,0.4],"format":".1f","title":"probability P(v)","titleFontSize":18,"titleX":-63,"titleY":107,"titleAngle":-90,"titleBaseline":"middle","titleAlign":"center"}},
    "detail":{"field":"k","type":"nominal"}
   }},
  {"data":{"name":"Ab"},"mark":{"type":"line","strokeWidth":2.5,"clip":true},
   "encoding":{
    "x":{"field":"x","type":"quantitative","axis":{"orient":"top","title":"RoboFish","labels":false,"ticks":false,"domain":false,"titleFontSize":22,"titleX":102,"titleY":-11,"titleBaseline":"alphabetic","titleAlign":"center"}},
    "y":{"field":"y","type":"quantitative","axis":{"orient":"right","title":"A","labels":false,"ticks":false,"domain":false,"titleFontSize":31,"titleAngle":0,"titleX":-269,"titleY":-6,"titleBaseline":"alphabetic","titleAlign":"left"}},
    "color":{"datum":"all tracks","type":"nominal","scale":{"domain":["single track","all tracks"],"range":["#ffb3b3","#000000"]},
     "legend":{"orient":"none","legendX":9,"legendY":10,"title":null,"symbolType":"stroke","symbolSize":1764,"symbolStrokeWidth":2.5,"clipHeight":18,"rowPadding":10,"labelFontSize":19.5,"labelOffset":12,"padding":7,"strokeColor":"#cccccc","fillColor":"white","cornerRadius":4}}
   }}
 ],
 "resolve":{"axis":{"x":"independent","y":"independent"}}
},
{"width":204,"height":213.5,
 "layer":[
  {"data":{"name":"Bt"},"mark":{"type":"line","strokeWidth":2,"opacity":0.3,"color":"#ff0000","clip":true},
   "encoding":{
    "x":{"field":"x","type":"quantitative","scale":{"domain":[-1.6,41.6],"nice":false,"zero":false},"axis":{"values":[0,20,40],"title":null}},
    "y":{"field":"y","type":"quantitative","scale":{"domain":[-0.005,0.102],"nice":false,"zero":false},"axis":{"values":[0,0.025,0.05,0.075,0.1],"format":".3f","title":null}},
    "detail":{"field":"k","type":"nominal"}
   }},
  {"data":{"name":"Bb"},"mark":{"type":"line","strokeWidth":2.5,"color":"#000000","clip":true},
   "encoding":{
    "x":{"field":"x","type":"quantitative","axis":{"orient":"top","title":"Guppy","labels":false,"ticks":false,"domain":false,"titleFontSize":22,"titleX":102,"titleY":-11,"titleBaseline":"alphabetic","titleAlign":"center"}},
    "y":{"field":"y","type":"quantitative","axis":{"orient":"right","title":"B","labels":false,"ticks":false,"domain":false,"titleFontSize":31,"titleAngle":0,"titleX":-269,"titleY":-6,"titleBaseline":"alphabetic","titleAlign":"left"}}
   }}
 ],
 "resolve":{"axis":{"x":"independent","y":"independent"}}
},
{"width":204,"height":213.5,
 "layer":[
  {"data":{"name":"Ct"},"mark":{"type":"line","strokeWidth":2,"opacity":0.3,"color":"#ff0000","clip":true},
   "encoding":{
    "x":{"field":"x","type":"quantitative","scale":{"domain":[-1.6,41.6],"nice":false,"zero":false},"axis":{"values":[0,20,40],"title":null}},
    "y":{"field":"y","type":"quantitative","scale":{"domain":[0,0.4],"nice":false,"zero":false},"axis":{"values":[0,0.1,0.2,0.3,0.4],"format":".1f","title":null}},
    "detail":{"field":"k","type":"nominal"}
   }},
  {"data":{"name":"Cb"},"mark":{"type":"line","strokeWidth":2.5,"color":"#000000","clip":true},
   "encoding":{
    "x":{"field":"x","type":"quantitative","axis":{"orient":"top","title":"Molly","labels":false,"ticks":false,"domain":false,"titleFontSize":22,"titleX":102,"titleY":-11,"titleBaseline":"alphabetic","titleAlign":"center"}},
    "y":{"field":"y","type":"quantitative","axis":{"orient":"right","title":"C","labels":false,"ticks":false,"domain":false,"titleFontSize":31,"titleAngle":0,"titleX":-269,"titleY":-6,"titleBaseline":"alphabetic","titleAlign":"left"}}
   }}
 ],
 "resolve":{"axis":{"x":"independent","y":"independent"}}
},
{"width":204,"height":213.5,
 "layer":[
  {"data":{"name":"Dt"},"mark":{"type":"line","strokeWidth":2,"opacity":0.3,"color":"#ff0000","clip":true},
   "encoding":{
    "x":{"field":"x","type":"quantitative","scale":{"domain":[-1.6,41.6],"nice":false,"zero":false},"axis":{"values":[0,20,40],"title":null}},
    "y":{"field":"y","type":"quantitative","scale":{"domain":[-0.0044,0.0958],"nice":false,"zero":false},"axis":{"values":[0,0.025,0.05,0.075],"format":".3f","title":null}},
    "detail":{"field":"k","type":"nominal"}
   }},
  {"data":{"name":"Db"},"mark":{"type":"line","strokeWidth":2.5,"color":"#000000","clip":true},
   "encoding":{
    "x":{"field":"x","type":"quantitative","axis":{"orient":"top","title":"Model","labels":false,"ticks":false,"domain":false,"titleFontSize":22,"titleX":102,"titleY":-11,"titleBaseline":"alphabetic","titleAlign":"center"}},
    "y":{"field":"y","type":"quantitative","axis":{"orient":"right","title":"D","labels":false,"ticks":false,"domain":false,"titleFontSize":31,"titleAngle":0,"titleX":-269,"titleY":-6,"titleBaseline":"alphabetic","titleAlign":"left"}}
   }}
 ],
 "resolve":{"axis":{"x":"independent","y":"independent"}}
},
{"width":204,"height":213.5,
 "layer":[
  {"data":{"name":"Ep"},"mark":{"type":"point","filled":true,"size":115,"opacity":1,"fill":"rgba(31,119,180,0.3)","stroke":"rgba(31,119,180,0.4)","strokeWidth":1,"clip":true},
   "encoding":{
    "x":{"field":"x","type":"quantitative","scale":{"domain":[-1.46,10],"nice":false,"zero":false},"axis":{"values":[0,5,10],"title":"v [cm/s]","titleFontSize":19,"titleY":50,"titleBaseline":"middle"}},
    "y":{"field":"y","type":"quantitative","scale":{"domain":[-1.9,40],"nice":false,"zero":false},"axis":{"values":[0,10,20,30,40],"title":"dφ/dt [rd/s]","titleFontSize":20,"titleX":-58,"titleY":107,"titleAngle":-90,"titleBaseline":"middle","titleAlign":"center"}},
    "shape":{"datum":"data","type":"nominal","scale":{"domain":["data"],"range":["M-1.15,0A1.15,1,0,1,0,1.15,0A1.15,1,0,1,0,-1.15,0Z"]},
     "legend":{"orient":"none","legendX":60,"legendY":47,"title":null,"symbolSize":115,"symbolStrokeWidth":1,"clipHeight":19,"labelFontSize":19.5,"labelOffset":24,"padding":0}}
   }},
  {"data":{"name":"Ec"},"mark":{"type":"line","strokeWidth":2.5,"opacity":0.85,"clip":true},
   "encoding":{
    "x":{"field":"x","type":"quantitative","axis":null},
    "y":{"field":"y","type":"quantitative","axis":{"orient":"right","title":"E","labels":false,"ticks":false,"domain":false,"titleFontSize":31,"titleAngle":0,"titleX":-269,"titleY":-6,"titleBaseline":"alphabetic","titleAlign":"left"}},
    "color":{"datum":"F/(v + α)","type":"nominal","scale":{"domain":["F/(v + α)"],"range":["#222222"]},
     "legend":{"orient":"none","legendX":42,"legendY":10.5,"title":"\u00a0","titleOrient":"bottom","titleFontSize":19,"titlePadding":13,"symbolType":"stroke","symbolSize":1764,"symbolStrokeWidth":2.5,"clipHeight":18,"labelFontSize":19.5,"labelFontStyle":"italic","labelOffset":9,"padding":7,"strokeColor":"#cccccc","cornerRadius":4}}
   }}
 ],
 "resolve":{"axis":{"x":"independent","y":"independent"}}
},
{"width":204,"height":213.5,
 "layer":[
  {"data":{"name":"Fp"},"mark":{"type":"point","filled":true,"shape":"M-1.15,0A1.15,1,0,1,0,1.15,0A1.15,1,0,1,0,-1.15,0Z","size":115,"opacity":1,"fill":"rgba(31,119,180,0.3)","stroke":"rgba(31,119,180,0.4)","strokeWidth":1,"clip":true},
   "encoding":{
    "x":{"field":"x","type":"quantitative","scale":{"domain":[-1.72,10],"nice":false,"zero":false},"axis":{"values":[0,5,10],"title":"v [cm/s]","titleFontSize":19,"titleY":50,"titleBaseline":"middle"}},
    "y":{"field":"y","type":"quantitative","scale":{"domain":[-2.4,40],"nice":false,"zero":false},"axis":{"values":[0,10,20,30,40],"labels":false,"title":null}}
   }},
  {"data":{"name":"Fc"},"mark":{"type":"line","strokeWidth":2.5,"color":"#222222","opacity":0.85,"clip":true},
   "encoding":{
    "x":{"field":"x","type":"quantitative","axis":null},
    "y":{"field":"y","type":"quantitative","axis":{"orient":"right","title":"F","labels":false,"ticks":false,"domain":false,"titleFontSize":31,"titleAngle":0,"titleX":-269,"titleY":-6,"titleBaseline":"alphabetic","titleAlign":"left"}}
   }}
 ],
 "resolve":{"axis":{"x":"independent","y":"independent"}}
},
{"width":204,"height":213.5,
 "layer":[
  {"data":{"name":"Gp"},"mark":{"type":"point","filled":true,"shape":"M-1.15,0A1.15,1,0,1,0,1.15,0A1.15,1,0,1,0,-1.15,0Z","size":115,"opacity":1,"fill":"rgba(31,119,180,0.3)","stroke":"rgba(31,119,180,0.4)","strokeWidth":1,"clip":true},
   "encoding":{
    "x":{"field":"x","type":"quantitative","scale":{"domain":[-1.37,10],"nice":false,"zero":false},"axis":{"values":[0,5,10],"title":"v [cm/s]","titleFontSize":19,"titleY":50,"titleBaseline":"middle"}},
    "y":{"field":"y","type":"quantitative","scale":{"domain":[-1.2,40],"nice":false,"zero":false},"axis":{"values":[0,10,20,30,40],"labels":false,"title":null}}
   }},
  {"data":{"name":"Gc"},"mark":{"type":"line","strokeWidth":2.5,"color":"#222222","opacity":0.85,"clip":true},
   "encoding":{
    "x":{"field":"x","type":"quantitative","scale":{"domain":[-1.37,10],"nice":false,"zero":false},"axis":null},
    "y":{"field":"y","type":"quantitative","scale":{"domain":[-1.2,40],"nice":false,"zero":false},"axis":{"orient":"right","title":"G","labels":false,"ticks":false,"domain":false,"titleFontSize":31,"titleAngle":0,"titleX":-269,"titleY":-6,"titleBaseline":"alphabetic","titleAlign":"left"}}
   }},
  {"data":{"name":"Gi"},"mark":{"type":"point","filled":true,"shape":"M-1.15,0A1.15,1,0,1,0,1.15,0A1.15,1,0,1,0,-1.15,0Z","size":95,"opacity":1,"fill":"rgba(31,119,180,0.3)","stroke":"rgba(31,119,180,0.4)","strokeWidth":1},
   "encoding":{
    "x":{"field":"x","type":"quantitative","scale":{"domain":[-1.66,10],"range":[81.7,194.3],"nice":false,"zero":false},"axis":{"orient":"bottom","offset":-68.7,"values":[0,10],"labelFontSize":17,"tickSize":4,"title":"Mollies(N=4)","titleFontSize":23,"titleX":138,"titleY":-112.4,"titleBaseline":"middle","titleAlign":"center"}},
    "y":{"field":"y","type":"quantitative","scale":{"domain":[-0.42,11.4],"range":[144.8,52.4],"nice":false,"zero":false},"axis":{"orient":"left","offset":-81.7,"values":[0,10],"labelFontSize":17,"tickSize":4,"labelPadding":3,"title":null}}
   }},
  {"data":{"name":"Gj"},"mark":{"type":"line","strokeWidth":2.5,"color":"#222222","opacity":0.85},
   "encoding":{
    "x":{"field":"x","type":"quantitative","scale":{"domain":[-1.66,10],"range":[81.7,194.3],"nice":false,"zero":false},"axis":null},
    "y":{"field":"y","type":"quantitative","scale":{"domain":[-0.42,11.4],"range":[144.8,52.4],"nice":false,"zero":false},"axis":null}
   }}
 ],
 "resolve":{"scale":{"x":"independent","y":"independent"},"axis":{"x":"independent","y":"independent"}}
},
{"width":204,"height":213.5,
 "layer":[
  {"data":{"name":"Hp"},"mark":{"type":"point","filled":true,"shape":"M-1.15,0A1.15,1,0,1,0,1.15,0A1.15,1,0,1,0,-1.15,0Z","size":115,"opacity":1,"fill":"rgba(31,119,180,0.3)","stroke":"rgba(31,119,180,0.4)","strokeWidth":1,"clip":true},
   "encoding":{
    "x":{"field":"x","type":"quantitative","scale":{"domain":[-1.03,10],"nice":false,"zero":false},"axis":{"values":[0,5,10],"title":"v [cm/s]","titleFontSize":19,"titleY":50,"titleBaseline":"middle"}},
    "y":{"field":"y","type":"quantitative","scale":{"domain":[-0.1,40],"nice":false,"zero":false},"axis":{"values":[0,10,20,30,40],"labels":false,"title":null}}
   }},
  {"data":{"name":"Hc"},"mark":{"type":"line","strokeWidth":2.5,"color":"#222222","opacity":0.85,"clip":true},
   "encoding":{
    "x":{"field":"x","type":"quantitative","axis":null},
    "y":{"field":"y","type":"quantitative","axis":{"orient":"right","title":"H","labels":false,"ticks":false,"domain":false,"titleFontSize":31,"titleAngle":0,"titleX":-269,"titleY":-6,"titleBaseline":"alphabetic","titleAlign":"left"}}
   }}
 ],
 "resolve":{"axis":{"x":"independent","y":"independent"}}
}
],
"config":{
 "font":"DejaVu Sans",
 "view":{"stroke":null},
 "axis":{"domainColor":"#000000","domainWidth":1.3,"tickColor":"#000000","tickWidth":1.3,"tickSize":5,"labelColor":"#000000","labelFontSize":20,"labelPadding":3,"grid":false,"labelFlush":false,"labelOverlap":false,"titleColor":"#000000","titleFontWeight":"normal"},
 "axisX":{"labelPadding":6},
 "legend":{"labelFontSize":20,"labelColor":"#000000"}
}
}
